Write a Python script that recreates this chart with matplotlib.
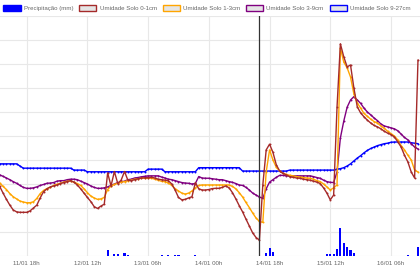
import numpy as np
import pandas as pd
import matplotlib
matplotlib.use('Agg')
import matplotlib.pyplot as plt
from matplotlib.patches import Patch

plt.rcParams['font.family'] = ['Liberation Sans', 'DejaVu Sans']

# ---------------- data ----------------
start_time = '2025-01-11 10:00'
n_hours = 125
times = pd.date_range(start_time, periods=n_hours, freq='h')

soil_0_1 = [14.5, 13.1, 11.8, 10.6, 9.6, 9.2, 9.1, 9.1, 9.1, 9.4,
            10.0, 10.6, 12.1, 13.4, 14.0, 14.4, 14.6, 14.8, 15.1, 15.3,
            15.5, 15.7, 15.4, 14.8, 14.0, 13.1, 12.2, 11.35, 10.3, 9.9,
            10.4, 10.8, 17.3, 14.6, 17.6, 15.1, 15.8, 17.6, 15.8, 15.7,
            15.9, 16.1, 16.25, 16.3, 16.35, 16.4, 16.25, 16.0, 15.9, 15.8,
            15.7, 15.0, 13.75, 12.2, 11.7, 11.8, 12.1, 12.35, 15.3, 14.0,
            13.75, 13.75, 13.85, 14.05, 14.1, 14.1, 14.3, 14.6, 14.2, 13.2,
            11.9, 10.5, 9.2, 7.7, 6.25, 4.8, 3.85, 3.3, 14.8, 22.1,
            23.3, 21.6, 19.0, 17.7, 17.2, 16.9, 16.5, 16.4, 16.25, 16.2,
            16.0, 15.9, 15.8, 15.6, 15.4, 15.1, 14.2, 13.1, 11.7, 12.7,
            31.0, 44.2, 41.5, 39.4, 39.8, 35.0, 31.1, 29.8, 29.0, 28.3,
            27.7, 27.2, 26.9, 26.5, 26.0, 25.6, 25.3, 24.8, 23.8, 22.7,
            21.0, 19.6, 17.5, 16.25, 40.8]

soil_1_3 = [15.2, 14.5, 13.85, 13.0, 12.35, 11.9, 11.45, 11.25, 11.1, 11.1,
            11.3, 12.0, 13.0, 13.65, 14.05, 14.3, 14.7, 14.95, 15.15, 15.4,
            15.55, 15.6, 15.4, 15.1, 14.7, 14.0, 13.2, 12.5, 12.1, 11.8,
            11.9, 12.2, 13.85, 14.6, 14.9, 15.15, 15.4, 15.5, 15.7, 15.8,
            16.0, 16.1, 16.2, 16.2, 16.2, 16.2, 16.0, 15.8, 15.55, 15.5,
            15.2, 14.7, 14.05, 13.55, 13.1, 12.9, 13.1, 13.55, 14.2, 14.7,
            14.8, 14.8, 14.8, 14.8, 14.8, 14.8, 14.8, 14.8, 14.8, 14.5,
            14.0, 13.2, 12.3, 11.15, 10.1, 8.95, 7.9, 7.2, 7.0, 17.5,
            22.1, 20.0, 18.5, 17.7, 17.2, 17.0, 16.8, 16.7, 16.55, 16.45,
            16.35, 16.25, 16.2, 16.0, 15.7, 15.5, 15.0, 14.4, 13.75, 14.2,
            14.8, 43.3, 40.4, 39.2, 37.3, 33.75, 31.9, 30.8, 29.7, 29.1,
            28.5, 28.0, 27.7, 27.1, 26.6, 26.0, 25.5, 25.0, 24.2, 23.0,
            22.1, 21.0, 20.0, 17.9, 17.5]

soil_3_9 = [16.9, 16.6, 16.25, 15.9, 15.5, 15.15, 14.7, 14.3, 14.1, 14.1,
            14.2, 14.4, 14.7, 14.9, 15.15, 15.2, 15.3, 15.6, 15.7, 15.7,
            15.9, 16.0, 16.0, 15.9, 15.6, 15.3, 15.0, 14.6, 14.3, 14.1,
            14.1, 14.2, 14.4, 14.7, 15.0, 15.3, 15.4, 15.6, 15.9, 16.0,
            16.25, 16.35, 16.5, 16.6, 16.7, 16.7, 16.7, 16.7, 16.45, 16.25,
            16.0, 15.9, 15.7, 15.5, 15.3, 15.2, 15.15, 15.0, 15.1, 16.55,
            16.25, 16.2, 16.2, 16.1, 16.0, 15.9, 15.9, 15.7, 15.5, 15.35,
            15.1, 14.8, 14.7, 14.3, 13.75, 13.1, 12.7, 12.3, 12.0, 14.0,
            15.4, 15.9, 16.4, 16.8, 16.8, 16.7, 16.7, 16.7, 16.7, 16.7,
            16.7, 16.7, 16.7, 16.55, 16.35, 16.2, 15.8, 15.5, 15.35, 15.3,
            17.5, 24.6, 28.1, 31.0, 32.5, 33.2, 32.5, 31.8, 30.8, 30.0,
            29.4, 28.75, 28.2, 27.5, 27.1, 26.9, 26.7, 26.5, 26.1, 25.4,
            24.7, 24.2, 23.4, 22.7, 22.3]

soil_9_27 = [19.2, 19.2, 19.2, 19.2, 19.2, 19.2, 18.75, 18.3, 18.3, 18.3,
             18.3, 18.3, 18.3, 18.3, 18.3, 18.3, 18.3, 18.3, 18.3, 18.3,
             18.3, 18.3, 17.9, 17.9, 17.9, 17.9, 17.55, 17.55, 17.55, 17.55,
             17.55, 17.55, 17.55, 17.55, 17.55, 17.55, 17.55, 17.55, 17.55, 17.55,
             17.55, 17.55, 17.55, 17.55, 18.1, 18.1, 18.1, 18.1, 18.1, 17.55,
             17.55, 17.55, 17.55, 17.55, 17.55, 17.55, 17.55, 17.55, 17.55, 18.4,
             18.4, 18.4, 18.4, 18.4, 18.4, 18.4, 18.4, 18.4, 18.4, 18.4,
             18.4, 18.4, 17.7, 17.7, 17.7, 17.7, 17.7, 17.7, 17.7, 17.7,
             17.7, 17.7, 17.7, 17.7, 17.7, 17.7, 17.9, 17.9, 17.9, 17.9,
             17.9, 17.9, 17.9, 17.9, 17.9, 17.9, 17.9, 17.9, 17.9, 17.9,
             18.1, 18.2, 18.4, 18.75, 19.2, 19.8, 20.4, 20.9, 21.5, 22.0,
             22.4, 22.7, 23.0, 23.2, 23.4, 23.5, 23.7, 23.75, 23.75, 23.75,
             23.75, 23.75, 23.6, 23.5, 23.4]

rain_times = ['2025-01-12 18:00', '2025-01-12 20:00', '2025-01-12 21:00',
              '2025-01-12 23:00', '2025-01-13 00:00', '2025-01-13 10:00',
              '2025-01-13 12:00', '2025-01-13 14:00', '2025-01-13 15:00',
              '2025-01-13 20:00', '2025-01-14 17:00', '2025-01-14 18:00',
              '2025-01-14 19:00', '2025-01-15 11:00', '2025-01-15 12:00',
              '2025-01-15 13:00', '2025-01-15 14:00', '2025-01-15 15:00',
              '2025-01-15 16:00', '2025-01-15 17:00', '2025-01-15 18:00',
              '2025-01-15 19:00', '2025-01-16 11:00', '2025-01-16 14:00']
rain_mm = [1.2, 0.4, 0.4, 0.6, 0.2, 0.2,
           0.2, 0.2, 0.2, 0.2, 0.6, 1.6,
           0.8, 0.4, 0.4, 0.4, 1.4, 5.6,
           2.6, 1.8, 1.2, 0.6, 0.2, 1.8]

tick_times = ['2025-01-11 18:00', '2025-01-12 12:00', '2025-01-13 06:00',
              '2025-01-14 00:00', '2025-01-14 18:00', '2025-01-15 12:00',
              '2025-01-16 06:00']
tick_labels = ['11/01 18h', '12/01 12h', '13/01 06h', '14/01 00h',
               '14/01 18h', '15/01 12h', '16/01 06h']

cursor_time = '2025-01-14 15:00'

labels = ['Precipitação (mm)', 'Umidade Solo 0-1cm', 'Umidade Solo 1-3cm',
          'Umidade Solo 3-9cm', 'Umidade Solo 9-27cm']
colors = ['#0000ff', '#a52a2a', '#ffa500', '#800080', '#0000ff']

# ---------------- figure ----------------
fig = plt.figure(figsize=(4.2, 2.8), dpi=100, facecolor='white')
ax = fig.add_axes([0, 24 / 280, 1, 240 / 280])
ax.set_facecolor('white')
ax2 = ax.twinx()

grid_c = '#e8e8e8'
ax.set_ylim(0, 50)
ax.set_yticks(np.arange(0, 51, 5))
ax.grid(True, color=grid_c, lw=0.8)
ax.set_axisbelow(True)

series = [(soil_9_27, colors[4]), (soil_3_9, colors[3]),
          (soil_1_3, colors[2]), (soil_0_1, colors[1])]
for vals, c in series:
    ax.plot(times, vals, color=c, lw=1.0, marker='o', ms=1.4, mew=0,
            solid_joinstyle='round')

ax.axvline(pd.Timestamp(cursor_time), color='#333333', lw=0.9, zorder=5)

t0 = times[0]
ax.set_xlim(t0 + pd.Timedelta(hours=0.09), t0 + pd.Timedelta(hours=124.6))
ax.set_xticks(pd.to_datetime(tick_times))
ax.set_xticklabels(tick_labels)
ax.tick_params(axis='x', length=0, pad=3.4, labelsize=4.4, labelcolor='#666666')
ax.tick_params(axis='y', left=False, labelleft=False)
for s in ax.spines.values():
    s.set_visible(False)

ax2.bar(pd.to_datetime(rain_times), rain_mm, width=0.62 / 24,
        color=colors[0], align='center')
ax2.set_ylim(0, 48)
ax2.set_yticks([])
ax2.tick_params(axis='y', right=False, labelright=False)
for s in ax2.spines.values():
    s.set_visible(False)
ax2.set_xlim(ax.get_xlim())

handles = [Patch(facecolor=colors[0], edgecolor=colors[0], lw=1.0)]
for c in colors[1:]:
    handles.append(Patch(facecolor=(0, 0, 0, 0.1), edgecolor=c, lw=1.0))
fig.legend(handles, labels, loc='upper center', bbox_to_anchor=(0.493, 0.982),
           ncol=5, frameon=False, fontsize=4.4, labelcolor='#666666',
           handlelength=2.8, handleheight=1.1, handletextpad=0.5,
           columnspacing=1.0, borderpad=0, borderaxespad=0)

fig.savefig('out.png', dpi=100, facecolor='white')
